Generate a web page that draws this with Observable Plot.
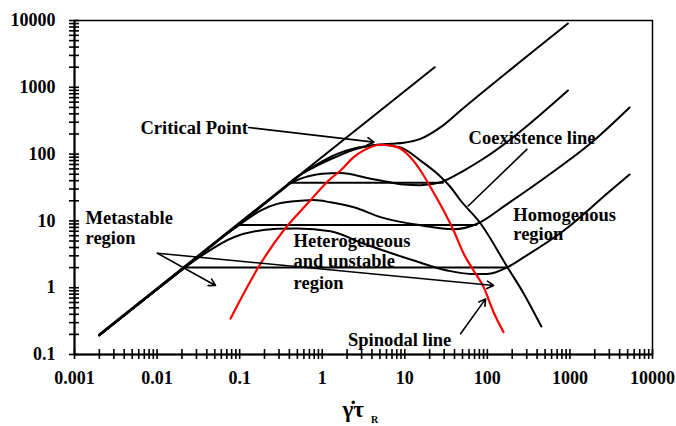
<!DOCTYPE html>
<html><head><meta charset="utf-8">
<script src="https://cdn.jsdelivr.net/npm/d3@7"></script>
<script src="https://cdn.jsdelivr.net/npm/@observablehq/plot@0.6"></script>
<style>
html,body{margin:0;padding:0;background:#fff;overflow:hidden}
svg text, svg tspan{font-family:"Liberation Serif","Times New Roman","DejaVu Serif",Times,serif !important;font-weight:bold}
</style></head><body><div id="chart"></div>
<script>
// ---- axis ticks ----
const xTicks = [0.001, 0.01, 0.1, 1, 10, 100, 1000, 10000];
const xTickLabels = ["0.001", "0.01", "0.1", "1", "10", "100", "1000", "10000"];
const yTicks = [0.1, 1, 10, 100, 1000, 10000];
const yTickLabels = ["0.1", "1", "10", "100", "1000", "10000"];

// ---- Newtonian (slope ~1) line ----
const newtonX = [0.002, 23];
const newtonY = [0.2, 2000];

// ---- flow curves ----
const curveAX = [0.002, 0.01, 0.03, 0.1, 0.3, 0.6, 1.0, 1.5, 2.5, 3.85, 6.7, 9.75, 15.5, 27.2, 47.4, 946];
const curveAY = [0.194, 0.947, 2.8, 9.15, 27, 53, 78, 100, 122, 134, 143, 148, 169, 253, 450, 9000];

const curveBX = [0.002, 0.01, 0.03, 0.1, 0.3, 0.42, 0.7, 1.0, 1.67, 3.85, 5.09, 9.75, 15.5, 27.2, 52, 82.8, 946];
const curveBY = [0.194, 0.947, 2.8, 9.15, 27, 37, 47, 51, 52, 42.7, 40.3, 35, 34.3, 37.9, 56.8, 80.2, 896];

const curveCX = [0.002, 0.01, 0.03, 0.07, 0.103, 0.179, 0.285, 0.547, 0.8, 1.26, 2.42, 5.09, 15.5, 39.4, 75.5, 175, 532, 1782, 5284];
const curveCY = [0.194, 0.947, 2.8, 6.43, 9.0, 14.3, 18, 20, 20.5, 19, 16, 11.4, 8.6, 7.5, 9.06, 18, 47, 145, 499];

const curveDX = [0.002, 0.01, 0.0336, 0.085, 0.285, 0.5, 1.26, 3.2, 12.9, 32.7, 62.7, 99.8, 175, 277, 845, 3112, 5284];
const curveDY = [0.194, 0.947, 2.95, 5.7, 7.6, 7.7, 7.0, 4.54, 2.55, 1.81, 1.61, 1.61, 2.03, 2.86, 7.18, 28.5, 49.5];

// ---- coexistence (binodal) line ----
const binodalX = [0.002, 0.01, 0.03, 0.1, 0.3, 0.5, 0.8, 1.5, 2.5, 3.85, 5.1, 7, 9.75, 15.5, 24.8, 35.9, 47.4, 82.8, 175, 275, 451];
const binodalY = [0.194, 0.947, 2.8, 9.15, 27, 46, 64, 92, 118, 133, 138, 133, 120, 80, 50.7, 31.9, 20.2, 9.14, 2.03, 0.82, 0.262];

// ---- spinodal line ----
const spinodalX = [0.0776, 0.179, 0.34, 0.659, 1.26, 1.67, 2.4, 3.85, 5.09, 8.11, 11.7, 15.5, 20.5, 29.5, 39, 51.5, 68.1, 90.1, 119, 157];
const spinodalY = [0.346, 2.28, 7.18, 18, 42.7, 56.8, 89.9, 127, 138, 127, 89.9, 56.8, 31.9, 14.3, 7.18, 3.25, 1.81, 1.02, 0.43, 0.216];

// ---- tie lines (plateaus) ----
const tieY = [37.2, 8.7, 2.0];
const tieX1 = [0.4, 0.094, 0.021];
const tieX2 = [30, 76, 176];

// ---- annotations ----
const labelText = ["Critical Point", "Coexistence line", "Metastable", "region", "Heterogeneous", "and unstable", "region", "Homogenous", "region", "Spinodal line"];
const labelX = [0.0063, 59.3, 0.00136, 0.00136, 0.45, 0.45, 0.45, 206, 206, 2.05];
const labelY = [203, 143, 9.06, 4.5, 4.03, 2.03, 0.97, 10.1, 5.09, 0.132];

const arrowX1 = [0.128, 0.0101, 0.0101, 47.4];
const arrowY1 = [250, 3.28, 3.28, 0.204];
const arrowX2 = [4.23, 0.051, 119, 95.3];
const arrowY2 = [151, 1.08, 1.08, 0.68];

const pointerX1 = [305], pointerY1 = [120], pointerX2 = [57.7], pointerY2 = [16.4];

const axisTitle = "γ\u0307τ";
const axisTitleSub = "R";

// ---- build tables ----
const pts = (xs, ys) => xs.map((x, i) => ({x, y: ys[i]}));
const minorTicks = (lo, hi) => { const t = []; for (let e = lo; e < hi; e++) for (let k = 1; k < 10; k++) t.push(+(k * Math.pow(10, e)).toPrecision(6)); t.push(Math.pow(10, hi)); return t; };
const xMinor = minorTicks(-3, 4);
const yMinor = minorTicks(-1, 4);
const ties = tieY.map((y, i) => ({x1: tieX1[i], x2: tieX2[i], y}));
const labels = labelText.map((t, i) => ({t, x: labelX[i], y: labelY[i]}));
const arrows = arrowX1.map((x, i) => ({x1: x, y1: arrowY1[i], x2: arrowX2[i], y2: arrowY2[i]}));
const pointers = pointerX1.map((x, i) => ({x1: x, y1: pointerY1[i], x2: pointerX2[i], y2: pointerY2[i]}));

const font = "Liberation Serif, Times New Roman, DejaVu Serif, serif";
const lw = 2;

const chart = Plot.plot({
  width: 676, height: 426,
  marginTop: 20, marginLeft: 74, marginRight: 24, marginBottom: 72,
  style: {fontFamily: font, fontWeight: "bold", fontSize: "18px", color: "#000", background: "#fff", overflow: "visible"},
  x: {type: "log", domain: [0.001, 10000]},
  y: {type: "log", domain: [0.1, 10000]},
  marks: [
    Plot.axisX(xMinor, {tickSize: 10, dy: -5, fill: "none", strokeWidth: 1.6, label: null}),
    Plot.axisX(xTicks, {tickSize: 0, tickPadding: 17, tickFormat: d => xTickLabels[xTicks.indexOf(d)], label: null, fontSize: 18, fontWeight: "bold", fontFamily: font}),
    Plot.axisY(yMinor, {tickSize: 10, dx: 5, fill: "none", strokeWidth: 1.6, label: null}),
    Plot.axisY(yTicks, {tickSize: 0, tickPadding: 19, tickFormat: d => yTickLabels[yTicks.indexOf(d)], label: null, fontSize: 18, fontWeight: "bold", fontFamily: font}),
    Plot.frame({strokeWidth: 1.5}),
    Plot.ruleX([0.001], {strokeWidth: 2}),
    Plot.ruleY([0.1], {strokeWidth: 2}),
    Plot.line(pts(newtonX, newtonY), {x: "x", y: "y", stroke: "#000", strokeWidth: lw}),
    Plot.line(pts(curveAX, curveAY), {x: "x", y: "y", stroke: "#000", strokeWidth: lw, curve: "monotone-x"}),
    Plot.line(pts(curveBX, curveBY), {x: "x", y: "y", stroke: "#000", strokeWidth: lw, curve: "monotone-x"}),
    Plot.line(pts(curveCX, curveCY), {x: "x", y: "y", stroke: "#000", strokeWidth: lw, curve: "monotone-x"}),
    Plot.line(pts(curveDX, curveDY), {x: "x", y: "y", stroke: "#000", strokeWidth: lw, curve: "monotone-x"}),
    Plot.line(pts(binodalX, binodalY), {x: "x", y: "y", stroke: "#000", strokeWidth: lw, curve: "monotone-x"}),
    Plot.ruleY(ties, {x1: "x1", x2: "x2", y: "y", stroke: "#000", strokeWidth: lw}),
    Plot.line(pts(spinodalX, spinodalY), {x: "x", y: "y", stroke: "#ff0000", strokeWidth: 2.2, curve: "monotone-x"}),
    Plot.arrow(arrows, {x1: "x1", y1: "y1", x2: "x2", y2: "y2", stroke: "#000", strokeWidth: 1.6, headLength: 7}),
    Plot.link(pointers, {x1: "x1", y1: "y1", x2: "x2", y2: "y2", stroke: "#000", strokeWidth: 1.6}),
    Plot.text(labels, {x: "x", y: "y", text: "t", textAnchor: "start", lineAnchor: "bottom", fontSize: 18.5, fontWeight: "bold", fontFamily: font, fill: "#000"})
  ]
});

// axis title: gamma-dot tau_R, as one text element
const svg = d3.select(chart);
const t = svg.append("text").attr("x", 342.5).attr("y", 416.7).attr("text-anchor", "start")
  .attr("font-family", font).attr("font-weight", "bold").attr("font-size", 23).attr("fill", "#000");
t.append("tspan").text(axisTitle);
t.append("tspan").attr("dx", 7).attr("dy", 6).attr("font-size", 10).text(axisTitleSub);

document.getElementById("chart").appendChild(chart);
</script></body></html>
